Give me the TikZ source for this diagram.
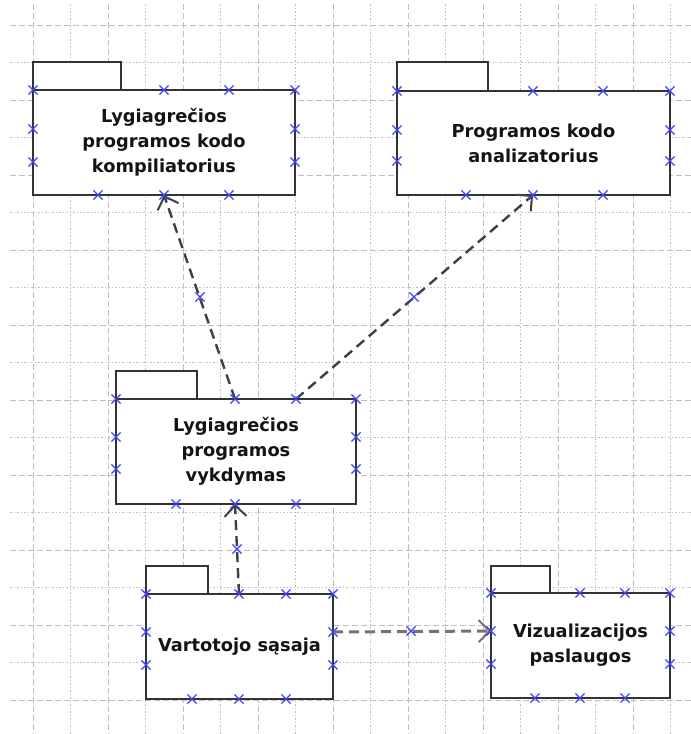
\documentclass[tikz,border=0pt]{standalone}
\usepackage{fontspec}
\setmainfont{DejaVu Sans}
\usetikzlibrary{fit,calc,shapes.misc,arrows.meta}
\definecolor{mkblue}{RGB}{64,64,255}
\begin{document}
\begin{tikzpicture}[x=1pt,y=-1pt,
  gridA/.style={draw=black!25, line width=1pt, dash pattern=on 6pt off 3pt},
  gridB/.style={draw=black!25, line width=1pt, dash pattern=on 1.5pt off 2pt},
  pkg/.style={draw=black!80, line width=2pt, inner sep=0pt, outer sep=0pt, fill=white},
  tabbox/.style={draw=black!80, line width=2pt, fill=white},
  lbl/.style={font=\fontsize{17.8}{25}\selectfont\bfseries, text=black!92, align=center, inner sep=0pt},
  crs/.style={draw=mkblue, cross out, minimum size=8pt, inner sep=0pt, line width=1.2pt},
  dep/.style={draw=black!75, line width=2.4pt, dash pattern=on 10pt off 6pt,
    -{Straight Barb[length=11pt,width=22pt,line width=2pt]}},
  deplight/.style={dep, draw=black!55, line width=3pt}]
\useasboundingbox (0,0) rectangle (691,734);
\fill[white] (0,0) rectangle (691,734);
% grid
\foreach \k in {0,...,17}{
  \pgfmathsetmacro{\gx}{33+37.5*\k}
  \pgfmathtruncatemacro{\gpar}{mod(\k,2)}
  \ifnum\gpar=0 \draw[gridA] (\gx,4) -- (\gx,734); \else \draw[gridB] (\gx,4) -- (\gx,734); \fi
}
\foreach \k in {0,...,18}{
  \pgfmathsetmacro{\gy}{25+37.5*\k}
  \pgfmathtruncatemacro{\gpar}{mod(\k,2)}
  \ifnum\gpar=0 \draw[gridA] (10,\gy) -- (691,\gy); \else \draw[gridB] (10,\gy) -- (691,\gy); \fi
}
% packages
\draw[tabbox] (33,62) rectangle (121,90);
\node[pkg, fit={(33,90)(295,195)}] (b1) {};
\node[lbl] (t1) at (b1.center) {Lygiagrečios\\programos kodo\\kompiliatorius};

\draw[tabbox] (397,62) rectangle (488,91);
\node[pkg, fit={(397,91)(670,195)}] (b2) {};
\node[lbl] (t2) at (b2.center) {Programos kodo\\analizatorius};

\draw[tabbox] (116,371) rectangle (197,399);
\node[pkg, fit={(116,399)(356,504)}] (b3) {};
\node[lbl] (t3) at (b3.center) {Lygiagrečios\\programos\\vykdymas};

\draw[tabbox] (146,566) rectangle (208,594);
\node[pkg, fit={(146,594)(333,699)}] (b4) {};
\node[lbl] (t4) at (b4.center) {Vartotojo sąsaja};

\draw[tabbox] (491,566) rectangle (550,593);
\node[pkg, fit={(491,593)(670,698)}] (b5) {};
\node[lbl] (t5) at (b5.center) {Vizualizacijos\\paslaugos};

% connector end points
\coordinate (a1s) at ($(b3.north west)+(119,0)$);
\coordinate (a1e) at ($(b1.south west)+(131,0)$);
\coordinate (a2s) at ($(b3.north west)+(180,0)$);
\coordinate (a2e) at ($(b2.south west)+(136,0)$);
\coordinate (a3s) at ($(b4.north west)+(93,0)$);
\coordinate (a3e) at ($(b3.south west)+(119,0)$);
\coordinate (a4s) at ($(b4.north east)+(0,38)$);
\coordinate (a4e) at ($(b5.north west)+(0,38)$);

\draw[dep] (a1s) -- (a1e);
\draw[dep] (a2s) -- (a2e);
\draw[dep] (a3s) -- (a3e);
\draw[deplight] (a4s) -- (a4e);

% connection point markers
\foreach \p in {(33,90),(164,90),(229,90),(295,90),(33,129),(33,162),(295,129),(295,162),(98,195),(164,195),(229,195),
  (397,91),(533,91),(603,91),(670,91),(397,130),(397,161),(670,130),(670,161),(466,195),(533,195),(603,195),
  (116,399),(235,399),(296,399),(356,399),(116,437),(116,469),(356,437),(356,469),(176,504),(235,504),(296,504),
  (146,594),(239,594),(286,594),(333,594),(146,632),(146,665),(333,632),(333,665),(192,699),(239,699),(286,699),
  (491,593),(580,593),(625,593),(670,593),(491,631),(491,664),(670,631),(670,664),(535,698),(580,698),(625,698),
  (200,297),(414,297),(237,549),(411,631)}
  \node[crs] at \p {};
\end{tikzpicture}
\end{document}
